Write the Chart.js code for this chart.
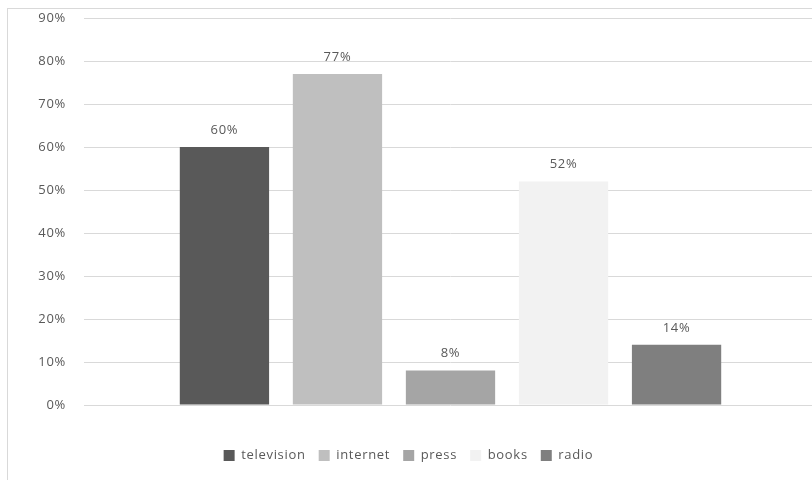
<!DOCTYPE html>
<html>
<head>
<meta charset="utf-8">
<title>Media usage</title>
<script src="https://cdn.jsdelivr.net/npm/chart.js@4/dist/chart.umd.min.js"></script>
<style>
    html, body { margin: 0; padding: 0; background: #ffffff; overflow: hidden; }
    canvas { display: block; }
</style>
</head>
<body>
<canvas id="myChart" width="830" height="480"></canvas>
<script>
// data
const categories = [''];
const seriesNames = ['television', 'internet', 'press', 'books', 'radio'];
const seriesValues = [60, 77, 8, 52, 14];
const seriesColors = ['#595959', '#bfbfbf', '#a5a5a5', '#f2f2f2', '#7f7f7f'];
const yTicks = [0, 10, 20, 30, 40, 50, 60, 70, 80, 90];

const fontFamily = '"Open Sans", "Noto Sans", sans-serif';
const fontSize = 13;
const spacing = '0.7px';

// slightly wider text everywhere on the canvas
const wideText = {
    id: 'wideText',
    beforeUpdate(chart) { chart.ctx.letterSpacing = spacing; },
    beforeDraw(chart) { chart.ctx.letterSpacing = spacing; },
};

// light frame around the whole chart
const frame = {
    id: 'frame',
    beforeDraw(chart) {
        const ctx = chart.ctx;
        ctx.save();
        ctx.strokeStyle = '#d9d9d9';
        ctx.lineWidth = 1;
        ctx.strokeRect(7.5, 8.5, chart.width + 20, chart.height + 20);
        ctx.restore();
    }
};

// value labels above each bar
const barLabels = {
    id: 'barLabels',
    afterDatasetsDraw(chart) {
        const ctx = chart.ctx;
        ctx.save();
        ctx.font = fontSize + 'px ' + fontFamily;
        ctx.fillStyle = '#595959';
        ctx.textAlign = 'center';
        ctx.textBaseline = 'middle';
        chart.data.datasets.forEach((ds, i) => {
            const bar = chart.getDatasetMeta(i).data[0];
            ctx.fillText(ds.data[0] + '%', bar.x, bar.y - 17);
        });
        ctx.restore();
    }
};

let myChart;
function createChart() {
    const ctx = document.getElementById('myChart').getContext('2d');

    myChart = new Chart(ctx, {
        type: 'bar',
        data: {
            labels: categories,
            datasets: seriesNames.map((name, i) => ({
                label: name,
                data: [seriesValues[i]],
                backgroundColor: seriesColors[i],
                borderWidth: 0,
                categoryPercentage: 0.771,
                barPercentage: 0.79,
            })),
        },
        options: {
            responsive: false,
            animation: false,
            layout: {
                padding: { top: 18, right: 13, bottom: 8, left: 0 },
            },
            plugins: {
                tooltip: { enabled: false },
                legend: {
                    position: 'bottom',
                    labels: {
                        boxWidth: 11,
                        boxHeight: 11,
                        padding: 13,
                        color: '#595959',
                        font: { family: fontFamily, size: fontSize },
                    },
                },
            },
            scales: {
                x: {
                    grid: { display: false },
                    border: { display: false },
                    ticks: { display: false },
                    afterFit(scale) { scale.height = 31; },
                },
                y: {
                    min: 0,
                    max: 90,
                    afterBuildTicks(scale) {
                        scale.ticks = yTicks.map(v => ({ value: v }));
                    },
                    afterFit(scale) { scale.width = 84; },
                    grid: { color: '#d9d9d9', tickColor: 'transparent', tickLength: 18 },
                    border: { display: false },
                    ticks: {
                        padding: 0,
                        color: '#595959',
                        font: { family: fontFamily, size: fontSize },
                        callback: v => v + '%',
                    },
                },
            },
        },
        plugins: [wideText, frame, barLabels],
    });
}

window.onload = () => {
    createChart();
};
</script>
</body>
</html>
